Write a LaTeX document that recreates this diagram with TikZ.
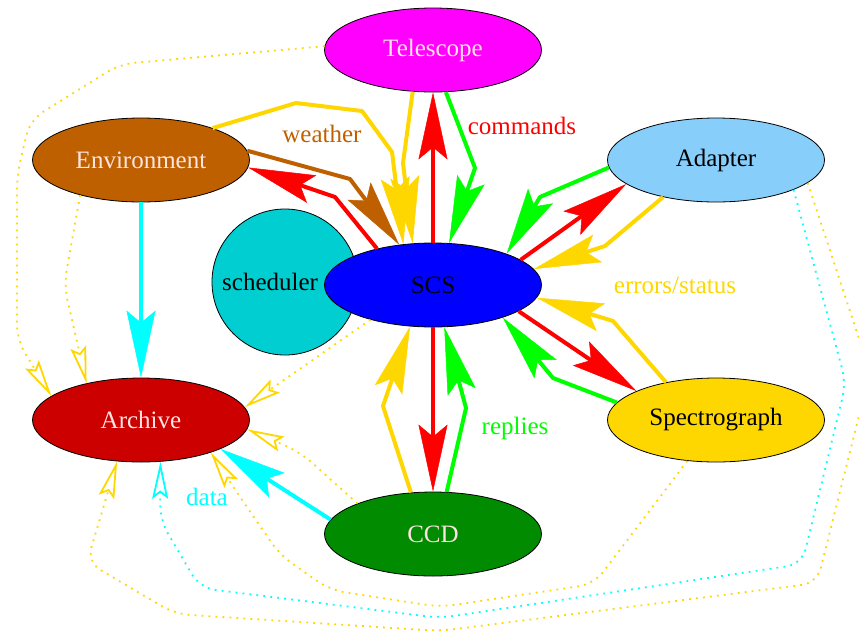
\documentclass[tikz,border=0pt]{standalone}
\usepackage{fontspec}
\setmainfont{Liberation Serif}
\usetikzlibrary{shapes.geometric,arrows.meta}
\definecolor{cTel}{HTML}{FF00FF}
\definecolor{cEnv}{HTML}{BF6000}
\definecolor{cAdp}{HTML}{87CEFA}
\definecolor{cSch}{HTML}{00CED1}
\definecolor{cScs}{HTML}{0000FF}
\definecolor{cArc}{HTML}{CD0000}
\definecolor{cSpc}{HTML}{FFD700}
\definecolor{cCcd}{HTML}{008B00}
\definecolor{lightTxt}{HTML}{FFE4E1}
\definecolor{eRed}{HTML}{FF0000}
\definecolor{eGreen}{HTML}{00FF00}
\definecolor{eGold}{HTML}{FFD700}
\definecolor{eBrown}{HTML}{BF6000}
\definecolor{eCyan}{HTML}{00FFFF}
\begin{document}
\begin{tikzpicture}[x=1pt,y=-1pt,
  nd/.style={ellipse,draw=black,line width=0.8pt,minimum width=217pt,minimum height=84pt,inner sep=0pt,font=\fontsize{25}{30}\selectfont},
  lbl/.style={font=\fontsize{25}{30}\selectfont,inner sep=0pt},
  fe/.style={line width=4pt,line join=round,-{Stealth[length=67pt,width=29pt,inset=12pt,line width=0.5pt]}},
  de/.style={line width=1.8pt,dash pattern=on 1.8pt off 5.2pt,rounded corners=15pt,-{Stealth[open,length=37pt,width=16pt,inset=6pt,line width=1.8pt]}},
]
\useasboundingbox (0,0) rectangle (859,633);
% nodes
\node[circle,draw=black,line width=0.8pt,fill=cSch,minimum size=146pt,inner sep=0pt,font=\fontsize{25}{30}\selectfont] (sch) at (285,282) {};
\node[nd,fill=cScs] (scs) at (433,285) {SCS};
\node[lbl,anchor=west] (schl) at (222,282) {scheduler};
\node[nd,fill=cTel,text=lightTxt] (tel) at (433,50) {Telescope};
\node[nd,fill=cEnv,text=lightTxt] (env) at (141,160) {Environment};
\node[nd,fill=cAdp] (adp) at (716,160) {Adapter};
\node[nd,fill=cArc,text=lightTxt] (arc) at (141,420) {Archive};
\node[nd,fill=cSpc] (spc) at (716,420) {Spectrograph};
\node[nd,fill=cCcd,text=lightTxt] (ccd) at (433,534) {CCD};
% labels
\node[lbl,text=eBrown] (lw) at (322,134) {weather};
\node[lbl,text=eRed] (lc) at (522,126) {commands};
\node[lbl,text=eGold] (le) at (675,285) {errors/status};
\node[lbl,text=eGreen] (lr) at (515,428) {replies};
\node[lbl,text=eCyan] (ld) at (207,497) {data};
% dotted edges
\draw[de,eGold] (tel.178) -- (120,64) -- (30,120) -- (17,175) -- (17,340) -- (arc.165);
\draw[de,eGold] (env.210) -- (64,285) -- (arc.146);
\draw[de,eGold] (scs.209) -- (arc.7);
\draw[de,eGold] (ccd.158) -- (300,452) -- (arc.-5);
\draw[de,eGold] (spc.235) -- (594,584) -- (440,607) -- (330,590) -- (280,555) -- (240,497) -- (arc.-25);
\draw[de,eCyan] (adp.-21) -- (846,383) -- (802,564) -- (440,618) -- (200,588) -- (160,520) -- (arc.-65);
\draw[de,eGold] (adp.-14) -- (870,372) -- (817,583) -- (440,631) -- (175,614) -- (87,562) -- (arc.240);
% solid edges
\draw[fe,eRed] (scs.90) -- (tel.270);
\draw[fe,eGold] (tel.244) -- (403,163) -- (scs.116);
\draw[fe,eGold] (env.24) -- (296,103) -- (362,111) -- (392,152) -- (scs.126);
\draw[fe,eGreen] (tel.287) -- (475,168) -- (scs.69);
\draw[fe,eRed] (scs.147) -- (335,197) -- (env.-4);
\draw[fe,eBrown] (env.5) -- (350,179) -- (scs.130);
\draw[fe,eGreen] (adp.184) -- (540,197) -- (scs.23);
\draw[fe,eRed] (scs.16) -- (adp.195);
\draw[fe,eGold] (adp.215) -- (605,246) -- (scs.9);
\draw[fe,eGold] (spc.143) -- (613,321) -- (scs.-7);
\draw[fe,eRed] (scs.-17) -- (spc.160);
\draw[fe,eGreen] (spc.170) -- (553,378) -- (scs.-25);
\draw[fe,eGold] (ccd.118) -- (383,406) -- (scs.241);
\draw[fe,eRed] (scs.270) -- (ccd.90);
\draw[fe,eGreen] (ccd.72) -- (466,408) -- (scs.285);
\draw[fe,eCyan] (env.270) -- (arc.90);
\draw[fe,eCyan] (ccd.172) -- (arc.-20);
\end{tikzpicture}
\end{document}
